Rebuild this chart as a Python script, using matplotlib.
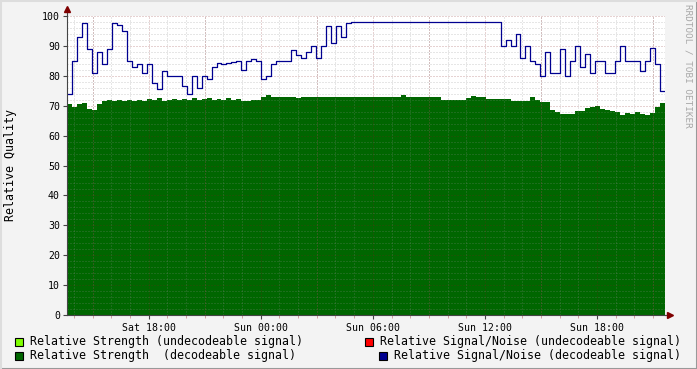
import numpy as np
import matplotlib
matplotlib.use('Agg')
import matplotlib.pyplot as plt
from matplotlib.patches import Rectangle
from matplotlib.lines import Line2D
from matplotlib.ticker import MultipleLocator

# 16 minute samples, time in hours counted from Sat 00:00
t_start = 13 + 38 / 60.0
t_step = 16 / 60.0

# relative strength (decodeable signal)
strength = [70.5, 69.5, 70.5, 71, 69, 68.5, 70.5, 71.5, 72, 71.7,
            72, 71.5, 72, 71.7, 72, 71.7, 72.3, 72, 72.5, 71.7,
            72, 72.4, 71.8, 72.2, 72, 72.5, 71.8, 72.2, 72.5, 72,
            72.4, 72, 72.5, 72, 72.4, 71.7, 71.6, 71.8, 72, 73,
            73.5, 73, 73, 73, 73, 73, 72.5, 73, 73, 73,
            73, 73, 73, 72.8, 72.8, 72.8, 73, 73, 73, 73,
            73, 73, 73, 73, 73, 73, 73, 73.5, 72.8, 72.8,
            72.8, 72.8, 72.8, 72.8, 72.8, 72, 72, 72, 72, 72,
            72.5, 73.3, 73, 72.8, 72.2, 72.2, 72.2, 72.2, 72.2, 71.7,
            71.7, 71.7, 71.7, 72.8, 72, 71.1, 71.1, 68.5, 68, 67.2,
            67.2, 67.2, 68.3, 68.3, 69.2, 69.5, 69.8, 69, 68.5, 68.3,
            68, 67, 67.5, 67.2, 68, 67.3, 67, 67.5, 69.5, 70.8]

# relative signal/noise (decodeable signal)
snr = [74, 85, 93, 97.5, 89, 81, 88, 84, 89, 97.8,
       97, 95, 85, 83, 84, 81, 84, 77.5, 75.5, 81.7,
       80, 80, 80, 76.7, 74, 80, 76, 80, 79, 83,
       84.4, 84, 84.4, 84.5, 85, 82, 85, 85.5, 85, 79,
       80, 84, 85, 85, 85, 88.5, 87, 86, 88, 90,
       86, 90, 96.7, 91, 96.7, 93, 97.5, 98, 98, 98,
       98, 98, 98, 98, 98, 98, 98, 98, 98, 98,
       98, 98, 98, 98, 98, 98, 98, 98, 98, 98,
       98, 98, 98, 98, 98, 98, 98, 90, 92, 90,
       93.9, 86, 90, 85, 84, 80, 88, 81, 81, 88.9,
       80, 85, 90, 83, 87.2, 81, 85, 85, 81, 81,
       85, 90, 85, 85, 85, 81.7, 85, 89.4, 84, 75]

tick_hours = [18, 24, 30, 36, 42]
tick_labels = ['Sat 18:00', 'Sun 00:00', 'Sun 06:00', 'Sun 12:00', 'Sun 18:00']

legend_labels = ['Relative Strength (undecodeable signal)',
                 'Relative Strength  (decodeable signal)',
                 'Relative Signal/Noise (undecodeable signal)',
                 'Relative Signal/Noise (decodeable signal)']
legend_colors = ['#80FF00', '#006600', '#FF0000', '#000090']

W, H = 697, 369
plt.rcParams['font.family'] = 'DejaVu Sans Mono'

fig = plt.figure(figsize=(W / 100, H / 100), dpi=100)
fig.patch.set_facecolor('#F3F3F3')
ax = fig.add_axes([67 / W, 1 - 315 / H, 598 / W, 299 / H])
ax.set_facecolor('white')

n = len(strength)
edges = t_start + np.arange(n + 1) * t_step
ax.fill_between(edges, np.append(strength, strength[-1]), 0, step='post',
                color='#006600', lw=0, zorder=2)
ax.step(edges, np.append(snr, snr[-1]), where='post', color='#000090', lw=0.9, zorder=3)

ax.set_xlim(edges[0], edges[-1])
ax.set_ylim(0, 100)

# grid like rrdtool: hourly / every 2 minor, 3 hours / every 10 major
ax.xaxis.set_minor_locator(MultipleLocator(1))
ax.yaxis.set_major_locator(MultipleLocator(10))
ax.yaxis.set_minor_locator(MultipleLocator(2))
ax.grid(which='minor', color='#8C8C8C', alpha=0.42, lw=0.72, ls=(0, (1, 2)), zorder=4)
ax.grid(which='major', color='#821E1E', alpha=0.4, lw=0.72, ls=(0, (1, 2)), zorder=4)
ax.set_axisbelow(False)

ax.set_xticks(tick_hours)
ax.set_xticklabels(tick_labels)
# 3-hourly major grid lines that have no label
for h in np.arange(15, 46, 3):
    if h not in tick_hours:
        ax.axvline(h, color='#821E1E', alpha=0.4, lw=0.72, ls=(0, (1, 2)), zorder=4)

ax.tick_params(axis='x', which='major', length=3, width=0.8, color='#444444',
               labelsize=7.1, pad=3)
ax.tick_params(axis='x', which='minor', length=2, width=0.7, color='#D0A0A0')
ax.tick_params(axis='y', which='major', length=3, width=0.8, color='#444444',
               labelsize=7.1, pad=2)
ax.tick_params(axis='y', which='minor', length=0)

for s in ['top', 'right']:
    ax.spines[s].set_visible(False)
for s in ['left', 'bottom']:
    ax.spines[s].set_color('#444444')
    ax.spines[s].set_linewidth(0.8)
    ax.spines[s].set_zorder(5)

# axis arrows
ax.plot([0, 0], [1, 1.02], transform=ax.transAxes, color='#444444', lw=0.8, clip_on=False)
ax.plot([0], [1.025], transform=ax.transAxes, marker='^', ms=4, color='#7F0000', clip_on=False)
ax.plot([1, 1.006], [0, 0], transform=ax.transAxes, color='#444444', lw=0.8, clip_on=False)
ax.plot([1.008], [0], transform=ax.transAxes, marker='>', ms=4, color='#7F0000', clip_on=False)

fig.text(11 / W, 1 - 165 / H, 'Relative Quality', rotation=90, ha='center', va='center',
         fontsize=8.4)
fig.text(688 / W, 1 - 4 / H, 'RRDTOOL / TOBI OETIKER', rotation=270, ha='center', va='top',
         fontsize=6.7, color='#A8A8A8')

# legend
leg_pos = [(15, 30, 341.5), (15, 30, 355.5), (365, 380, 341.5), (379, 394, 355.5)]
for (sx, tx, ty), lab, col in zip(leg_pos, legend_labels, legend_colors):
    fig.add_artist(Rectangle((sx / W, 1 - (ty + 4.5) / H), 8 / W, 8 / H,
                             transform=fig.transFigure, facecolor=col,
                             edgecolor='black', lw=0.8))
    fig.text(tx / W, 1 - ty / H, lab, ha='left', va='center', fontsize=8.4)

# frame shading
fig.add_artist(Line2D([0, 1], [0.5 / H, 0.5 / H], transform=fig.transFigure, color='#999999', lw=1.5))
fig.add_artist(Line2D([1 - 0.5 / W, 1 - 0.5 / W], [0, 1], transform=fig.transFigure, color='#999999', lw=1.5))
fig.add_artist(Line2D([0, 1], [1 - 0.5 / H, 1 - 0.5 / H], transform=fig.transFigure, color='#DDDDDD', lw=1.5))
fig.add_artist(Line2D([0.5 / W, 0.5 / W], [0, 1], transform=fig.transFigure, color='#DDDDDD', lw=1.5))

fig.savefig('out.png', dpi=100, facecolor=fig.get_facecolor())
